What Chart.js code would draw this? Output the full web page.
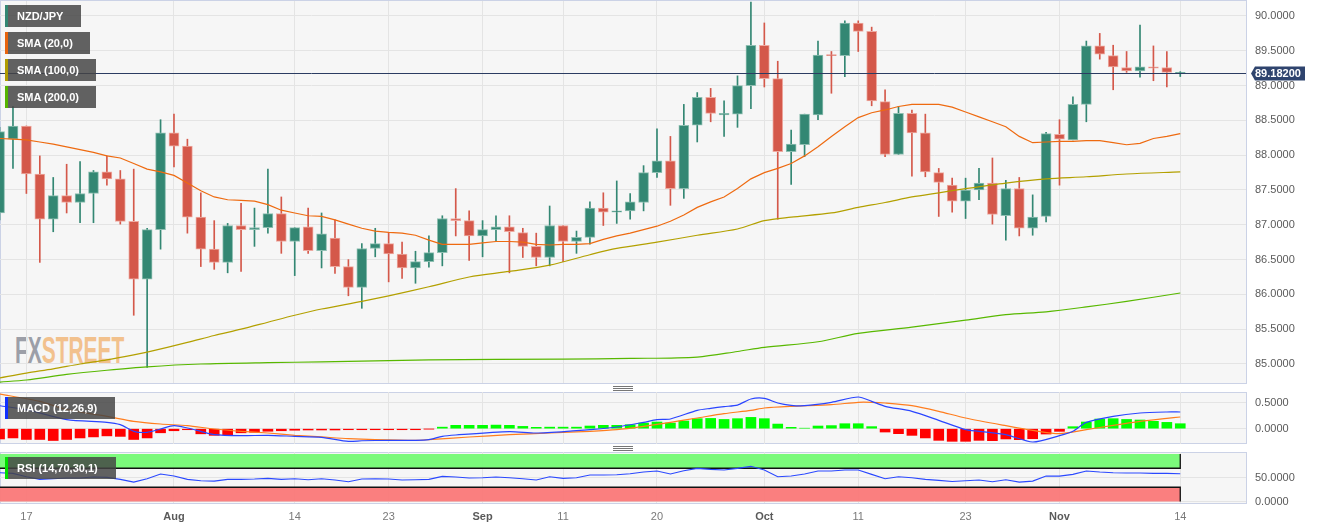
<!DOCTYPE html>
<html>
<head>
<meta charset="utf-8">
<script src="https://cdn.jsdelivr.net/npm/chart.js@4.4.0/dist/chart.umd.min.js"></script>
<style>
body{margin:0;width:1323px;height:529px;background:#fff;position:relative;overflow:hidden;font-family:"Liberation Sans",Arial,sans-serif}
.panel{position:absolute;left:0;width:1247px;box-sizing:border-box;border:1px solid #cbd2e6;background:#f6f6f6}
.wrap{position:absolute;left:0;width:1323px;z-index:2}
.box{position:absolute;left:5px;height:22px;background:rgba(68,68,68,.84);color:#fff;font-weight:bold;font-size:11px;line-height:22px;padding-left:12px;box-sizing:border-box;z-index:5;white-space:nowrap}
.box i{position:absolute;left:0;top:0;width:3px;height:22px}
.grip{position:absolute;left:613px;width:20px;height:5px;background:repeating-linear-gradient(#777 0 1px,transparent 1px 2px);z-index:3}
.mark{position:absolute;left:15px;top:332px;font-size:37px;line-height:37px;font-weight:bold;transform:scaleX(0.565);transform-origin:0 0;z-index:1;white-space:nowrap}
</style>
</head>
<body>
<div class="panel" style="top:0;height:384px"></div>
<div class="panel" style="top:392px;height:52px"></div>
<div class="panel" style="top:452px;height:52px"></div>
<div class="mark"><span style="color:#9c9fa8">FX</span><span style="color:#f2c18d">STREET</span></div>
<div class="grip" style="top:386px"></div>
<div class="grip" style="top:446px"></div>

<div class="wrap" style="top:0;height:384px"><canvas id="main"></canvas></div>
<div class="wrap" style="top:392px;height:52px"><canvas id="macd"></canvas></div>
<div class="wrap" style="top:452px;height:77px"><canvas id="rsi"></canvas></div>

<div class="box" style="top:5px;width:76px"><i style="background:#338773"></i>NZD/JPY</div>
<div class="box" style="top:32px;width:85px"><i style="background:#e8640e"></i>SMA (20,0)</div>
<div class="box" style="top:59px;width:91px"><i style="background:#b09c00"></i>SMA (100,0)</div>
<div class="box" style="top:86px;width:91px"><i style="background:#55b400"></i>SMA (200,0)</div>
<div class="box" style="top:397px;width:110px"><i style="background:#1030ff"></i>MACD (12,26,9)</div>
<div class="box" style="top:457px;width:111px"><i style="background:#00e000"></i>RSI (14,70,30,1)</div>

<script>
// trading days counted from Jul 17 (= 0); first candle is day -2
const dayStart = -2;
const tickDays = [0, 11, 20, 27, 34, 40, 47, 55, 62, 70, 77, 86];
const tickLabels = ['17', 'Aug', '14', '23', 'Sep', '11', '20', 'Oct', '11', '23', 'Nov', '14'];
const monthLabels = ['Aug', 'Sep', 'Oct', 'Nov'];

const opens = [87.17,88.23,88.42,87.73,87.08,87.42,87.32,87.45,87.76,87.66,87.05,86.22,86.93,88.32,88.13,87.11,86.65,86.46,86.99,86.93,86.96,87.16,86.76,86.97,86.63,86.81,86.40,86.10,86.66,86.73,86.58,86.38,86.47,86.60,87.09,87.06,86.84,86.93,86.97,86.89,86.69,86.53,86.99,86.76,86.82,87.24,87.18,87.20,87.32,87.75,87.92,87.52,88.43,88.83,88.58,88.59,89.00,89.58,89.10,88.05,88.15,88.58,89.44,89.43,89.90,89.78,88.77,88.01,88.60,88.32,87.75,87.57,87.34,87.50,87.60,87.13,87.52,86.95,87.12,88.30,88.22,88.73,89.57,89.43,89.26,89.21,89.27,89.26,89.178];
const highs = [88.40,88.70,88.42,87.99,87.68,87.87,87.91,87.78,87.99,87.78,87.80,86.95,88.51,88.59,88.23,87.46,87.06,87.02,87.31,87.24,87.80,87.40,86.96,87.24,87.17,87.07,86.50,86.73,86.95,86.88,86.75,86.62,86.84,87.13,87.52,87.20,87.06,87.13,87.13,86.95,86.88,87.27,86.99,86.91,87.33,87.46,87.63,87.45,87.85,88.38,88.27,88.73,88.90,88.96,88.78,89.14,90.20,89.90,89.35,88.36,88.59,89.64,89.49,89.93,89.93,89.84,88.94,88.70,88.65,88.59,87.81,87.67,87.67,87.81,87.96,87.64,87.68,87.43,88.33,88.51,88.84,89.64,89.75,89.58,89.49,89.87,89.57,89.49,89.20];
const lows = [87.07,87.81,87.45,86.46,86.90,87.17,87.03,87.03,87.57,87.01,85.70,84.95,86.65,87.83,86.88,86.40,86.36,86.31,86.33,86.69,86.88,86.59,86.27,86.59,86.38,86.30,85.98,85.80,86.54,86.18,86.23,86.16,86.39,86.41,86.84,86.49,86.54,86.77,86.31,86.53,86.41,86.41,86.47,86.59,86.72,86.99,87.02,87.08,87.20,87.68,87.28,87.38,88.19,88.48,88.27,88.40,88.67,88.98,87.08,87.58,87.98,88.51,88.89,89.13,89.49,88.71,87.98,88.01,87.70,87.69,87.12,87.18,87.09,87.36,87.01,86.78,86.84,86.85,87.04,87.57,88.22,88.48,89.38,88.94,89.19,89.12,89.07,88.98,89.13];
const closes = [88.34,88.42,87.73,87.08,87.42,87.32,87.45,87.76,87.66,87.05,86.22,86.93,88.32,88.13,87.11,86.65,86.46,86.99,86.93,86.96,87.16,86.76,86.96,86.63,86.87,86.40,86.10,86.66,86.73,86.58,86.38,86.47,86.60,87.09,87.06,86.84,86.93,86.97,86.90,86.69,86.53,86.99,86.76,86.82,87.24,87.18,87.20,87.33,87.75,87.92,87.52,88.43,88.83,88.60,88.60,89.00,89.58,89.10,88.05,88.16,88.59,89.44,89.43,89.90,89.78,88.78,88.01,88.60,88.32,87.76,87.61,87.34,87.50,87.60,87.15,87.52,86.95,87.11,88.31,88.23,88.73,89.57,89.45,89.27,89.21,89.27,89.25,89.19,89.182];

const sma20 = [88.24,88.23,88.22,88.19,88.16,88.12,88.08,88.04,87.99,87.96,87.88,87.80,87.76,87.71,87.60,87.49,87.40,87.36,87.35,87.34,87.29,87.21,87.17,87.13,87.12,87.07,87.01,86.95,86.91,86.89,86.88,86.85,86.78,86.72,86.72,86.72,86.74,86.76,86.76,86.75,86.72,86.71,86.72,86.72,86.73,86.79,86.84,86.88,86.93,86.98,87.05,87.14,87.25,87.33,87.40,87.52,87.66,87.75,87.81,87.88,87.99,88.12,88.27,88.41,88.54,88.61,88.65,88.70,88.73,88.73,88.73,88.69,88.62,88.55,88.48,88.41,88.27,88.18,88.19,88.20,88.20,88.21,88.21,88.18,88.15,88.17,88.24,88.27,88.31];
const sma100Days = [-2,0,2,4,6,8,9,12,14,16,18,20,22,25,27,30,33,36,39,42,44,47,50,53,55,57,60,62,64,66,68,70,73,76,79,82,86];
const sma100 = [84.80,84.87,84.93,85.00,85.06,85.13,85.17,85.31,85.41,85.50,85.60,85.70,85.79,85.90,85.98,86.11,86.25,86.33,86.42,86.57,86.66,86.75,86.85,86.94,87.06,87.11,87.17,87.25,87.32,87.40,87.46,87.52,87.60,87.66,87.69,87.73,87.76];
const sma200Days = [-2,0,3,6,9,13,18,22,30,40,45,50,53,55,59,62,66,70,73,76,79,82,86];
const sma200 = [84.74,84.77,84.85,84.91,84.96,85.00,85.02,85.03,85.06,85.07,85.08,85.10,85.18,85.24,85.32,85.44,85.53,85.63,85.71,85.75,85.82,85.90,86.02];

const macdHist = [-0.20,-0.18,-0.21,-0.21,-0.23,-0.21,-0.18,-0.16,-0.14,-0.15,-0.21,-0.18,-0.08,-0.04,-0.02,-0.10,-0.13,-0.12,-0.08,-0.07,-0.05,-0.04,-0.03,-0.025,-0.025,-0.025,-0.02,-0.02,-0.02,-0.02,-0.02,-0.02,-0.005,0.03,0.065,0.065,0.065,0.07,0.065,0.045,0.026,0.03,0.03,0.03,0.052,0.065,0.065,0.078,0.11,0.13,0.11,0.149,0.195,0.20,0.18,0.195,0.22,0.195,0.09,0.026,0.01,0.052,0.06,0.097,0.097,0.04,-0.065,-0.097,-0.13,-0.18,-0.227,-0.246,-0.246,-0.227,-0.233,-0.20,-0.214,-0.195,-0.104,-0.052,0.039,0.13,0.188,0.195,0.18,0.169,0.143,0.123,0.097];
const macdDays = [-2,0,3,6,7,8,9,10,11,12,13,14,16,18,20,22,24,25,27,29,30,31,32,36,38,41,42,44,46,47,48,50,51,52,53,54,55,56,57,58,60,62,63,64,66,68,70,71,73,75,77,78,79,81,83,85,86];
const macdLine = [0.448,0.37,0.176,0.124,0.078,-0.051,-0.071,-0.006,0.059,0.014,-0.051,-0.116,-0.136,-0.129,-0.149,-0.168,-0.246,-0.235,-0.226,-0.226,-0.213,-0.149,-0.123,-0.058,-0.084,-0.038,-0.019,0.033,0.124,0.176,0.189,0.357,0.396,0.43,0.46,0.578,0.591,0.50,0.455,0.448,0.513,0.617,0.532,0.435,0.338,0.163,-0.019,-0.051,-0.116,-0.259,-0.136,-0.051,0.124,0.241,0.305,0.325,0.325];
const signalDays = [-2,1,3,6,8,10,12,14,16,18,20,22,24,26,29,30,33,36,39,42,44,46,48,50,52,54,55,57,60,62,63,64,66,68,70,73,75,77,79,81,83,85,86];
const signalLine = [0.675,0.532,0.37,0.241,0.143,0.091,0.059,-0.006,-0.051,-0.084,-0.129,-0.161,-0.194,-0.213,-0.226,-0.213,-0.162,-0.116,-0.084,-0.051,-0.019,0.046,0.124,0.208,0.292,0.357,0.403,0.435,0.468,0.513,0.513,0.50,0.448,0.338,0.208,0.059,-0.032,-0.097,-0.019,0.066,0.143,0.202,0.228];

const rsi = [60.6,59.2,52.1,46.5,47.9,49.3,49.3,51.4,50.7,46.5,40.8,47.9,57.8,53.5,46.5,43.7,42.9,46.5,46.5,47.2,48.6,46.5,47.9,45.8,47.9,45.1,41.5,47.2,47.9,47.2,45.1,45.8,46.5,52.8,51.4,49.3,50.0,51.4,50.0,47.9,45.1,52.1,48.6,50.0,55.7,55.7,56.4,58.5,62.0,64.1,57.8,64.8,69.8,67.7,66.3,69.8,74.0,66.3,52.1,53.5,57.8,64.1,64.1,66.3,66.3,57.1,47.9,52.1,50.0,46.5,44.4,42.2,43.7,45.1,41.5,45.8,40.8,42.9,53.5,53.5,57.1,64.1,62.0,60.6,59.9,59.9,59.2,59.2,58.5];
const rsiLevels = [30, 70];

const mainTicks = [85, 85.5, 86, 86.5, 87, 87.5, 88, 88.5, 89, 89.5, 90];
const macdTicks = [0, 0.5];
const rsiTicks = [0, 50];

const UP = '#338773', DOWN = '#d4584a';
const UP_EDGE = '#8fbfb2', DOWN_EDGE = '#eeaaa1';
const FONT = '"Liberation Sans", Arial, sans-serif';

const isUp = k => closes[k] >= opens[k];
const pts = (days, vals) => vals.map((v, k) => ({x: days ? days[k] : dayStart + k, y: v}));

function xScale(showLabels) {
  return {
    type: 'linear', min: -1.967, max: 90.9, offset: false,
    grid: {color: '#e4e4e4', drawTicks: false, offset: false},
    border: {display: false},
    afterBuildTicks: s => { s.ticks = tickDays.map(v => ({value: v})); },
    afterFit: s => { s.height = showLabels ? 26 : 0; s.paddingLeft = 0; s.paddingRight = 0; },
    ticks: {
      display: showLabels, autoSkip: false, maxRotation: 0, padding: 7,
      callback: v => tickLabels[tickDays.indexOf(v)],
      color: c => monthLabels.includes(tickLabels[c.index]) ? '#5a5a5a' : '#7a7a7a',
      font: c => ({family: FONT, size: 11, weight: monthLabels.includes(tickLabels[c.index]) ? 'bold' : 'normal'})
    }
  };
}

function yScale(min, max, tickVals) {
  return {
    position: 'right', min: min, max: max,
    grid: {color: '#e4e4e4', drawTicks: false},
    border: {display: false},
    afterBuildTicks: s => { s.ticks = tickVals.map(v => ({value: v})); },
    afterFit: s => { s.width = 77; s.paddingTop = 0; s.paddingBottom = 0; },
    ticks: {padding: 9, color: '#5a5a5a', font: {family: FONT, size: 11}, callback: v => v.toFixed(4)}
  };
}

const baseOpts = {
  responsive: true, maintainAspectRatio: false, animation: false, events: [],
  plugins: {legend: {display: false}, tooltip: {enabled: false}}
};

const priceTag = {
  id: 'priceTag',
  afterDatasetsDraw(chart) {
    const {ctx, chartArea: a, scales: {y}} = chart;
    const last = closes[closes.length - 1];
    const py = Math.round(y.getPixelForValue(last)) + 0.5;
    ctx.save();
    ctx.strokeStyle = '#2b3c62';
    ctx.lineWidth = 1;
    ctx.beginPath(); ctx.moveTo(a.left, py); ctx.lineTo(a.right, py); ctx.stroke();
    ctx.fillStyle = '#2f446e';
    ctx.beginPath();
    ctx.moveTo(a.right + 5, py);
    ctx.lineTo(a.right + 9, py - 7);
    ctx.lineTo(a.right + 59, py - 7);
    ctx.lineTo(a.right + 59, py + 7);
    ctx.lineTo(a.right + 9, py + 7);
    ctx.closePath(); ctx.fill();
    ctx.fillStyle = '#fff';
    ctx.font = 'bold 11px ' + FONT;
    ctx.textBaseline = 'middle';
    ctx.fillText(last.toFixed(5), a.right + 9, py + 0.5);
    ctx.restore();
  }
};

new Chart(document.getElementById('main'), {
  type: 'bar',
  data: {
    datasets: [
      {type: 'line', data: pts(null, sma20), borderColor: '#ee6a10', borderWidth: 1.2, pointRadius: 0, order: 1},
      {type: 'line', data: pts(sma100Days, sma100), borderColor: '#b3a000', borderWidth: 1.2, pointRadius: 0, tension: 0.3, order: 1},
      {type: 'line', data: pts(sma200Days, sma200), borderColor: '#58b800', borderWidth: 1.2, pointRadius: 0, tension: 0.3, order: 1},
      {data: opens.map((o, k) => ({x: dayStart + k, y: [o, closes[k]]})), barThickness: 10, minBarLength: 1, grouped: false,
        backgroundColor: c => isUp(c.dataIndex) ? UP : DOWN,
        borderColor: c => isUp(c.dataIndex) ? UP_EDGE : DOWN_EDGE, borderWidth: 1, borderSkipped: false, order: 2},
      {data: lows.map((l, k) => ({x: dayStart + k, y: [l, highs[k]]})), barThickness: 1, grouped: false,
        backgroundColor: c => isUp(c.dataIndex) ? UP : DOWN, order: 3}
    ]
  },
  options: Object.assign({}, baseOpts, {
    layout: {padding: {top: 1, bottom: 1, left: 0, right: 0}},
    scales: {x: xScale(false), y: yScale(84.727, 90.2155, mainTicks)}
  }),
  plugins: [priceTag]
});

new Chart(document.getElementById('macd'), {
  type: 'bar',
  data: {
    datasets: [
      {type: 'line', data: pts(macdDays, macdLine), borderColor: '#2a45ff', borderWidth: 1.2, pointRadius: 0, tension: 0.25, order: 1},
      {type: 'line', data: pts(signalDays, signalLine), borderColor: '#ff7d1e', borderWidth: 1.2, pointRadius: 0, tension: 0.25, order: 1},
      {data: pts(null, macdHist), barThickness: 10, grouped: false,
        backgroundColor: c => c.raw.y >= 0 ? '#00ff00' : '#ff0000', order: 2}
    ]
  },
  options: Object.assign({}, baseOpts, {
    layout: {padding: 0},
    scales: {x: xScale(false), y: yScale(-0.298, 0.714, macdTicks)}
  })
});

const rsiZones = {
  id: 'rsiZones',
  beforeDatasetsDraw(chart) {
    const {ctx, chartArea: a, scales: {x, y}} = chart;
    const xr = x.getPixelForValue(tickDays[tickDays.length - 1]);
    const yTop = y.getPixelForValue(100), y70 = y.getPixelForValue(rsiLevels[1]);
    const y30 = y.getPixelForValue(rsiLevels[0]), y0 = y.getPixelForValue(0);
    ctx.save();
    ctx.fillStyle = 'rgba(118,250,118,0.96)';
    ctx.fillRect(a.left, yTop, xr - a.left, y70 - yTop);
    ctx.fillStyle = 'rgba(250,122,122,0.96)';
    ctx.fillRect(a.left, y30, xr - a.left, y0 - y30);
    ctx.strokeStyle = '#111';
    ctx.lineWidth = 1.3;
    ctx.beginPath();
    ctx.moveTo(a.left, y70); ctx.lineTo(xr, y70); ctx.lineTo(xr, yTop);
    ctx.moveTo(a.left, y30); ctx.lineTo(xr, y30); ctx.lineTo(xr, y0);
    ctx.stroke();
    ctx.restore();
  }
};

new Chart(document.getElementById('rsi'), {
  type: 'line',
  data: {
    datasets: [
      {data: pts(null, rsi), borderColor: '#2a48ff', borderWidth: 1.1, pointRadius: 0}
    ]
  },
  options: Object.assign({}, baseOpts, {
    layout: {padding: 0},
    scales: {x: xScale(true), y: yScale(-3.2, 104.2, rsiTicks)}
  }),
  plugins: [rsiZones]
});
</script>
</body>
</html>
